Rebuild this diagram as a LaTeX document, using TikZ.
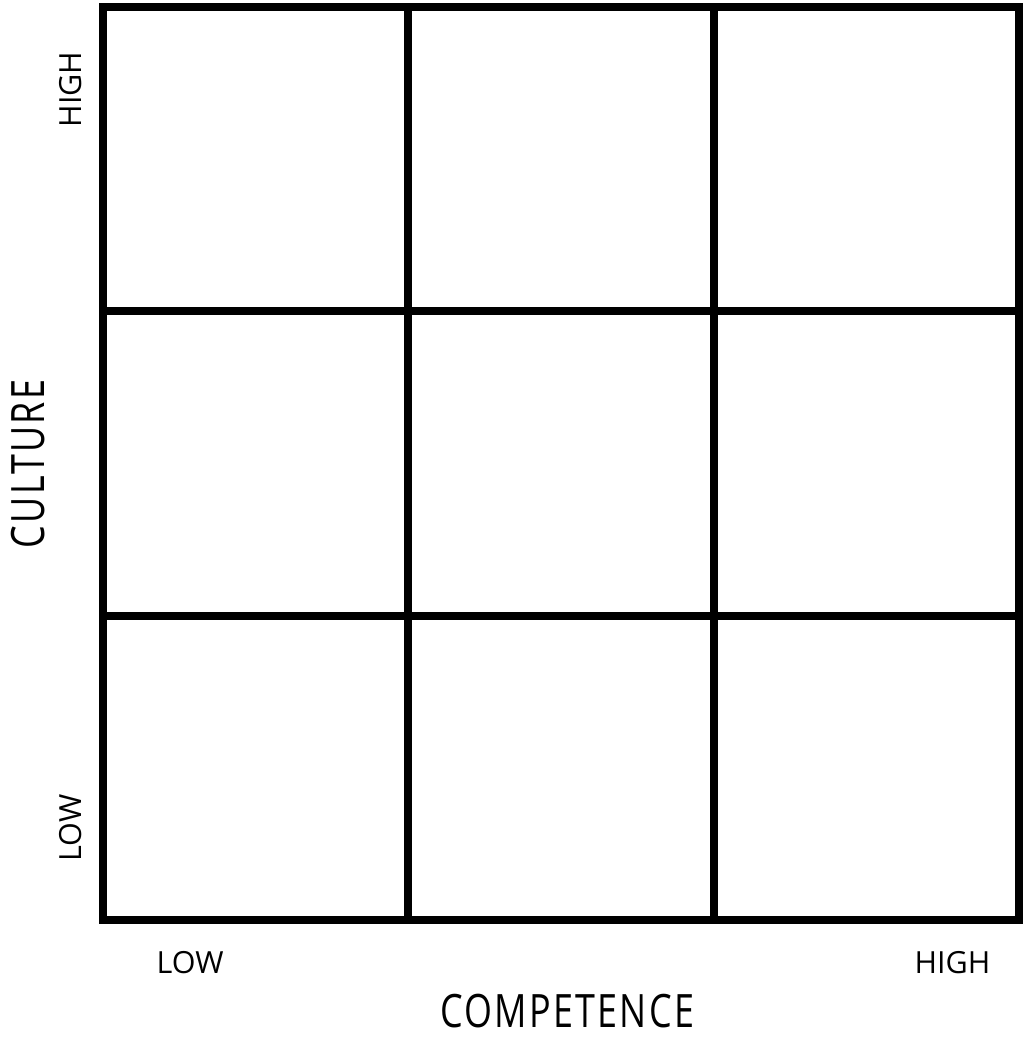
\documentclass[tikz,border=0pt]{standalone}
\usepackage{fontspec}
\setmainfont{Open Sans}
\newfontfamily\condfont[FakeStretch=0.78,LetterSpace=5]{Open Sans}
\usetikzlibrary{positioning}

\begin{document}
\begin{tikzpicture}[x=1pt, y=-1pt, every node/.style={inner sep=0pt}]
\tikzstyle{cell}=[draw=black, line width=8pt, minimum width=305.3pt, minimum height=304.3pt]
\tikzstyle{levellabel}=[font=\fontsize{30.5}{32}\selectfont]
\tikzstyle{axislabel}=[font=\condfont\fontsize{46}{48}\selectfont]
\useasboundingbox (0,0) rectangle (1023,1038);
% 3x3 grid
\foreach \r in {0,1,2}
  \foreach \c in {0,1,2}
    \node[cell] (cell-\r-\c) at (255.6+305.3*\c, 159.2+304.3*\r) {};
% vertical axis
\node[levellabel, rotate=90] (cultHigh) at (71,89.5) {HIGH};
\node[levellabel, rotate=90] (cultLow) at (71,828) {LOW};
\node[axislabel, rotate=90] (culture) at (28,464) {CULTURE};
% horizontal axis
\node[levellabel] (compLow) at (190,962.5) {LOW};
\node[levellabel] (compHigh) at (952.5,962.5) {HIGH};
\node[axislabel] (competence) at (567,1011) {COMPETENCE};
\end{tikzpicture}
\end{document}
